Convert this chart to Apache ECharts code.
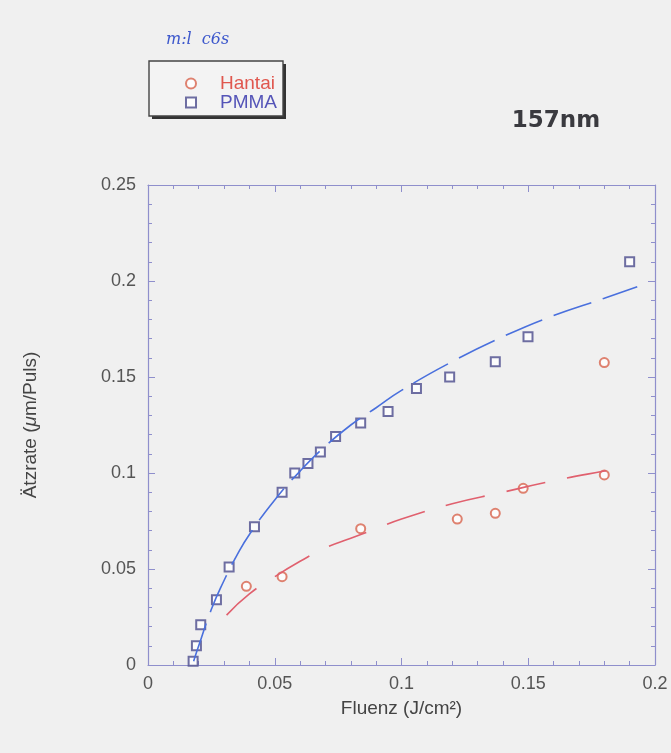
<!DOCTYPE html>
<html>
<head>
<meta charset="utf-8">
<script src="https://cdn.jsdelivr.net/npm/echarts@6/dist/echarts.min.js"></script>
<style>html,body{margin:0;padding:0;background:#f0f0f0;}#c{width:671px;height:753px;}</style>
</head>
<body>
<div id="c"></div>
<script>
const pmmaX = [0.0178, 0.0191, 0.0208, 0.027, 0.032, 0.042, 0.0529, 0.0579, 0.0631, 0.068, 0.074, 0.0839, 0.0947, 0.1059, 0.119, 0.137, 0.1499, 0.190];
const pmmaY = [0.002, 0.010, 0.021, 0.034, 0.051, 0.072, 0.090, 0.100, 0.105, 0.111, 0.119, 0.126, 0.132, 0.144, 0.150, 0.158, 0.171, 0.210];
const hantaiX = [0.0388, 0.0529, 0.0839, 0.122, 0.137, 0.148, 0.180, 0.180];
const hantaiY = [0.041, 0.046, 0.071, 0.076, 0.079, 0.092, 0.099, 0.1575];
// Fit curves
const pmmaFitX = [0.018, 0.02, 0.025, 0.03, 0.035, 0.04, 0.05, 0.06, 0.07, 0.08, 0.09, 0.1, 0.12, 0.14, 0.16, 0.18, 0.193];
const pmmaFitY = [0.002, 0.010, 0.029, 0.044, 0.057, 0.068, 0.086, 0.101, 0.114, 0.125, 0.134, 0.143, 0.158, 0.171, 0.182, 0.191, 0.197];
const hantaiFitX = [0.031, 0.04, 0.05, 0.06, 0.07, 0.08, 0.09, 0.1, 0.12, 0.14, 0.16, 0.18, 0.189];
const hantaiFitY = [0.026, 0.037, 0.046, 0.054, 0.061, 0.066, 0.071, 0.076, 0.084, 0.090, 0.096, 0.101, 0.103];
const xTicks = [0, 0.05, 0.1, 0.15, 0.2];
const yTicks = [0, 0.05, 0.1, 0.15, 0.2, 0.25];

const zip = (a, b) => a.map((v, i) => [v, b[i]]);
const axisColor = '#8f8fcc';
const font = "'Liberation Sans', Arial, sans-serif";

const chart = echarts.init(document.getElementById('c'));
const baseX = {
  type: 'value', min: xTicks[0], max: xTicks[xTicks.length - 1], interval: 0.05,
  axisLine: { show: true, onZero: false, lineStyle: { color: axisColor, width: 1.2 } },
  axisTick: { show: true, inside: true, length: 7, lineStyle: { color: axisColor } },
  minorTick: { show: true, splitNumber: 5, length: 4, lineStyle: { color: axisColor } },
  splitLine: { show: false }
};
const baseY = {
  type: 'value', min: yTicks[0], max: yTicks[yTicks.length - 1], interval: 0.05,
  axisLine: { show: true, onZero: false, lineStyle: { color: axisColor, width: 1.2 } },
  axisTick: { show: true, inside: true, length: 7, lineStyle: { color: axisColor } },
  minorTick: { show: true, splitNumber: 5, length: 4, lineStyle: { color: axisColor } },
  splitLine: { show: false }
};

chart.setOption({
  backgroundColor: '#f0f0f0',
  animation: false,
  grid: { left: 148, right: 16, top: 185, bottom: 88 },
  legend: {
    orient: 'vertical', left: 180, top: 69, itemGap: 0,
    itemWidth: 10, itemHeight: 10,
    data: [
      { name: 'Hantai', textStyle: { color: '#e0574e' } },
      { name: 'PMMA', textStyle: { color: '#5555b8' } }
    ],
    textStyle: { fontSize: 19, fontFamily: font, lineHeight: 18, padding: [0, 0, 0, 19] }
  },
  xAxis: [
    Object.assign({}, baseX, {
      position: 'bottom',
      name: 'Fluenz (J/cm²)', nameLocation: 'middle', nameGap: 34,
      nameTextStyle: { fontSize: 19, color: '#444', fontFamily: font },
      axisLabel: { show: true, fontSize: 18, color: '#555', fontFamily: font, margin: 10 }
    }),
    Object.assign({}, baseX, { position: 'top', axisLabel: { show: false } })
  ],
  yAxis: [
    Object.assign({}, baseY, {
      position: 'left',
      name: 'Ätzrate ({i|μ}m/Puls)', nameLocation: 'middle', nameGap: 108, nameRotate: 90,
      nameTextStyle: { fontSize: 19, color: '#444', fontFamily: font,
        rich: { i: { fontSize: 19, fontStyle: 'italic', color: '#444', fontFamily: font } } },
      axisLabel: { show: true, fontSize: 18, color: '#555', fontFamily: font, margin: 12 }
    }),
    Object.assign({}, baseY, { position: 'right', axisLabel: { show: false } })
  ],
  series: [
    {
      name: 'PMMA fit', type: 'line', data: zip(pmmaFitX, pmmaFitY), smooth: true,
      showSymbol: false, silent: true,
      lineStyle: { color: '#4a70dd', width: 1.6, type: [40, 12] }
    },
    {
      name: 'Hantai fit', type: 'line', data: zip(hantaiFitX, hantaiFitY), smooth: true,
      showSymbol: false, silent: true,
      lineStyle: { color: '#e0606e', width: 1.6, type: [40, 22] }
    },
    {
      name: 'Hantai', type: 'scatter', data: zip(hantaiX, hantaiY),
      symbol: 'emptyCircle', symbolSize: 9,
      itemStyle: { color: '#d8644e', borderColor: '#d8644e', borderWidth: 1.3 }
    },
    {
      name: 'PMMA', type: 'scatter', data: zip(pmmaX, pmmaY),
      symbol: 'emptyRect', symbolSize: 9,
      itemStyle: { color: '#4b4b8c', borderColor: '#4b4b8c', borderWidth: 1.3 }
    }
  ],
  graphic: [
    { type: 'rect', z: -1, shape: { x: 152, y: 64, width: 134, height: 55 }, style: { fill: '#333' } },
    { type: 'rect', z: 0, shape: { x: 149, y: 61, width: 134, height: 55 }, style: { fill: '#f3f3f3', stroke: '#444', lineWidth: 1.4 } },
    { type: 'text', z: 10, x: 556, y: 121, style: { text: '157nm', font: "bold 23px 'DejaVu Sans'", fill: '#3a3a3f', align: 'center', verticalAlign: 'middle' } },
    { type: 'text', z: 10, x: 166, y: 40, style: { text: 'm:l  c6s', font: "italic 16px 'DejaVu Serif'", fill: '#3d58cc', verticalAlign: 'middle' } }
  ]
});
</script>
</body>
</html>
